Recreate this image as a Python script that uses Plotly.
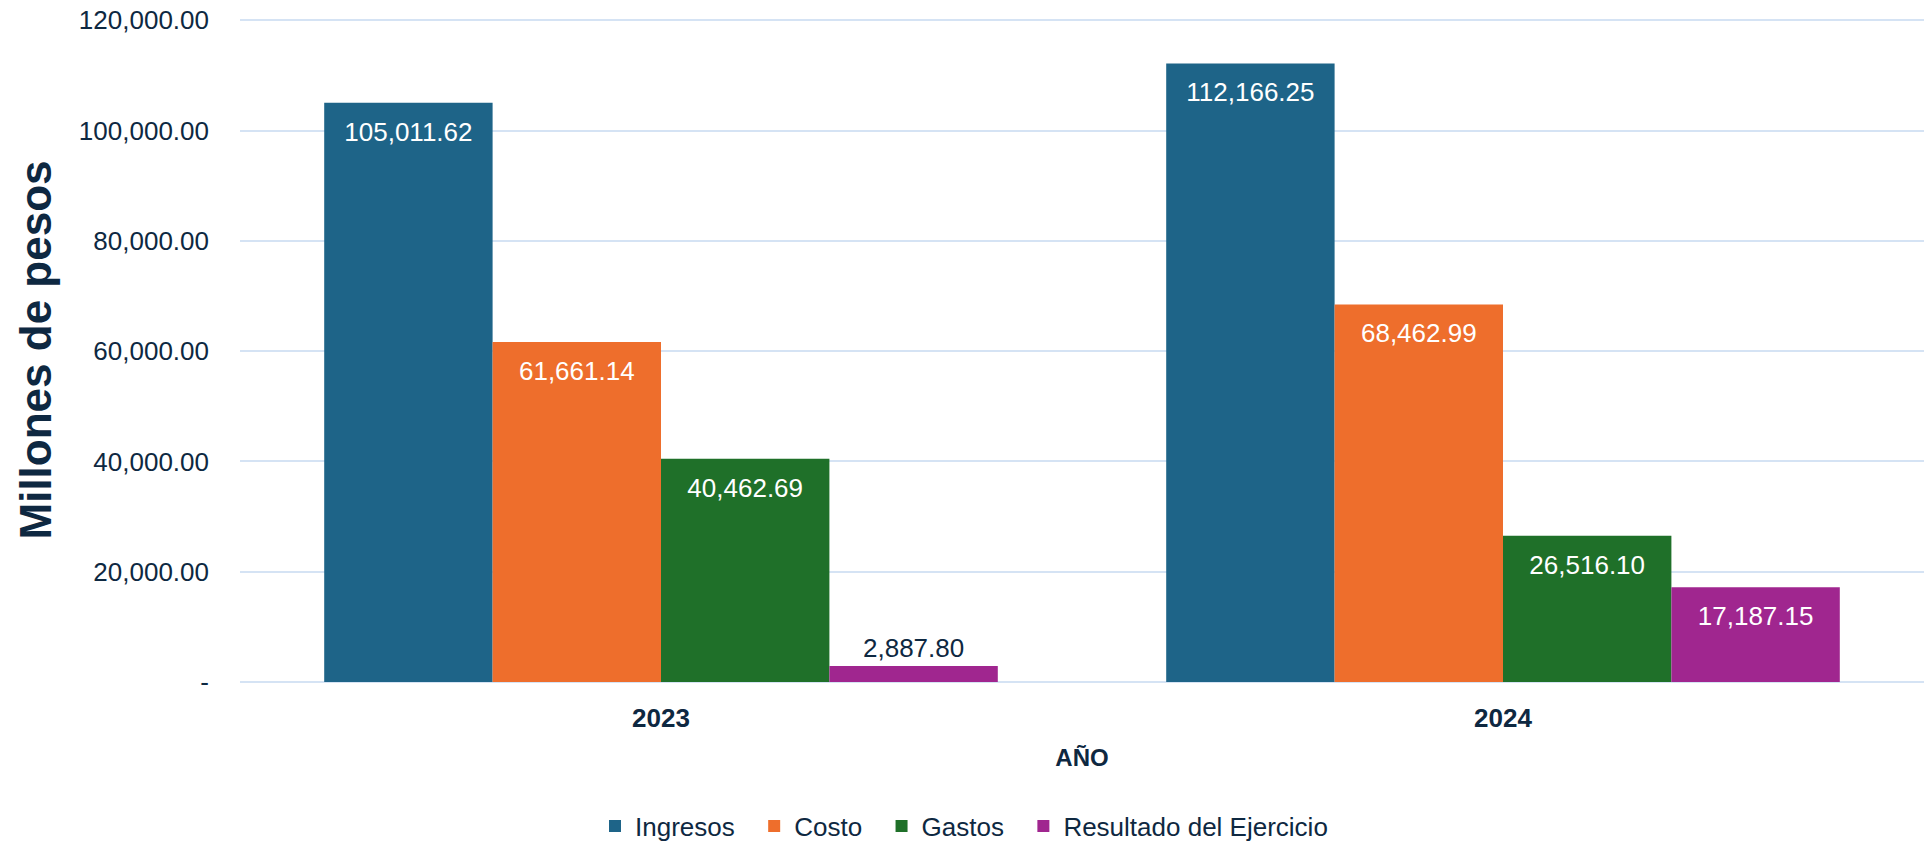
import plotly.graph_objects as go

years = ["2023", "2024"]
year_labels = ["<b>2023</b>", "<b>2024</b>"]
ingresos = [105011.62, 112166.25]
costo = [61661.14, 68462.99]
gastos = [40462.69, 26516.10]
resultado = [2887.80, 17187.15]

series_names = ["Ingresos", "Costo", "Gastos", "Resultado del Ejercicio"]
series_values = [ingresos, costo, gastos, resultado]
series_colors = ["#1E6488", "#EE6E2C", "#1F7029", "#A0268F"]

y_tickvals = [0, 20000, 40000, 60000, 80000, 100000, 120000]
y_ticktext = ["-", "20,000.00", "40,000.00", "60,000.00", "80,000.00", "100,000.00", "120,000.00"]

TEXT = "#0E2841"
FONT = "Liberation Sans, Arial, sans-serif"
NB = "\u00a0"

fig = go.Figure()
for i, (name, vals, col) in enumerate(zip(series_names, series_values, series_colors)):
    positions = ["outside" if v < 8000 else "inside" for v in vals]
    labels = []
    for v, p in zip(vals, positions):
        s = f"{v:,.2f}"
        if p == "inside":
            labels.append(f"{NB}<br>{NB}<br><span style='font-size:26px'>{s}</span>")
        else:
            labels.append(s)
    legend_name = name + (NB * 2 if i < len(series_names) - 1 else "")
    fig.add_trace(go.Bar(
        name=legend_name, x=years, y=vals,
        marker=dict(color=col, line=dict(width=0)),
        text=labels,
        textposition=positions,
        insidetextanchor="end",
        insidetextfont=dict(color="white", size=10, family=FONT),
        outsidetextfont=dict(color=TEXT, size=26, family=FONT),
        cliponaxis=False,
    ))

fig.update_layout(
    width=1928, height=841,
    margin=dict(l=240, r=4, t=18, b=159),
    paper_bgcolor="white", plot_bgcolor="white",
    barmode="group", bargap=0.2, bargroupgap=0,
    font=dict(family=FONT, color=TEXT, size=26),
    legend=dict(
        orientation="h", xref="container", yref="container",
        x=0.5, xanchor="center", y=0.0178, yanchor="middle",
        font=dict(size=26, color=TEXT),
        traceorder="normal",
    ),
    showlegend=True,
)
fig.update_yaxes(
    range=[0, 120400], tickvals=y_tickvals, ticktext=y_ticktext,
    showgrid=True, gridcolor="#D5E3F4", gridwidth=1.5,
    zeroline=True, zerolinecolor="#D5E3F4", zerolinewidth=1.5,
    showline=False, ticks="", ticklabelstandoff=30, ticklabeloverflow="allow",
    tickfont=dict(size=26, color=TEXT),
    title=dict(text="<b>Millones de pesos</b>", font=dict(size=44, color=TEXT), standoff=13),
)
fig.update_xaxes(
    showgrid=False, showline=False, ticks="",
    tickfont=dict(size=26, color=TEXT),
    tickvals=years, ticktext=year_labels,
    ticklabelstandoff=18,
    title=dict(text="<b>AÑO</b>", font=dict(size=24, color=TEXT), standoff=17),
)

fig.write_html(
    "out.html",
    config={"displayModeBar": False},
    post_script="document.body.style.margin='0';document.documentElement.style.overflow='hidden';",
)
